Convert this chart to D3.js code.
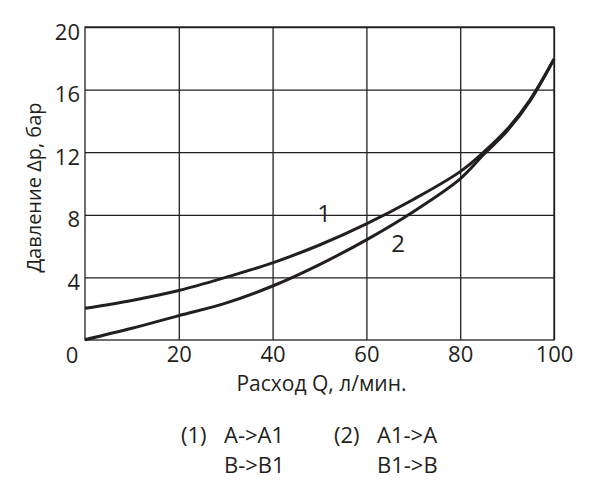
<!DOCTYPE html>
<html>
<head>
<meta charset="utf-8">
<script src="https://cdn.jsdelivr.net/npm/d3@7"></script>
<style>
  body { margin: 0; background: #fff; }
  text { font-family: "Open Sans", sans-serif; fill: #231f20; }
</style>
</head>
<body>
<div id="chart"></div>
<script>
var flow = [0, 10, 20, 30, 40, 50, 60, 70, 80, 85, 90, 95, 100];
var curve1 = [2.03, 2.53, 3.16, 4.0, 4.93, 6.07, 7.42, 8.98, 10.76, 12.0, 13.46, 15.4, 17.95];
var curve2 = [0.02, 0.75, 1.56, 2.36, 3.45, 4.82, 6.4, 8.2, 10.3, 11.85, 13.35, 15.33, 17.95];
var xTicks = [20, 40, 60, 80, 100];
var yTicks = [4, 8, 12, 16, 20];

var width = 596,
    height = 491,
    plotLeft = 85,
    plotRight = 554,
    plotTop = 27,
    plotBottom = 340,
    ink = "#231f20";

var svg = d3.select("#chart")
    .append("svg")
    .attr("width", width)
    .attr("height", height);

var x = d3.scaleLinear().domain([0, 100]).range([plotLeft, plotRight]);
var y = d3.scaleLinear().domain([0, 20]).range([plotBottom, plotTop]);

// grid
svg.append("g")
    .attr("transform", "translate(0," + plotBottom + ")")
    .call(d3.axisBottom(x).tickValues(xTicks).tickSize(-(plotBottom - plotTop)).tickFormat(""))
    .call(g => g.select(".domain").remove())
    .selectAll(".tick line")
    .style("stroke", ink)
    .style("stroke-width", "1.3px");

svg.append("g")
    .attr("transform", "translate(" + plotLeft + ",0)")
    .call(d3.axisLeft(y).tickValues(yTicks).tickSize(-(plotRight - plotLeft)).tickFormat(""))
    .call(g => g.select(".domain").remove())
    .selectAll(".tick line")
    .style("stroke", ink)
    .style("stroke-width", "1.3px");

svg.append("rect")
    .attr("x", plotLeft)
    .attr("y", plotTop)
    .attr("width", plotRight - plotLeft)
    .attr("height", plotBottom - plotTop)
    .style("fill", "none")
    .style("stroke", ink)
    .style("stroke-width", "1.3px");

// tick labels
var xAxis = svg.append("g")
    .attr("transform", "translate(0," + plotBottom + ")")
    .call(d3.axisBottom(x).tickValues(xTicks).tickSize(0).tickPadding(6));
xAxis.select(".domain").remove();
xAxis.selectAll(".tick text")
    .style("font-size", "22px")
    .style("font-family", "Open Sans")
    .style("fill", ink);

var yAxis = svg.append("g")
    .attr("transform", "translate(" + plotLeft + ",0)")
    .call(d3.axisLeft(y).tickValues(yTicks).tickSize(0).tickPadding(5));
yAxis.select(".domain").remove();
yAxis.selectAll(".tick text")
    .attr("dy", "0.55em")
    .style("font-size", "22px")
    .style("font-family", "Open Sans")
    .style("fill", ink);

svg.append("text")
    .attr("x", plotLeft - 13)
    .attr("y", 363)
    .attr("text-anchor", "middle")
    .style("font-size", "22px")
    .text("0");

// axis titles
svg.append("text")
    .attr("x", (plotLeft + plotRight) / 2 + 2)
    .attr("y", 391)
    .attr("text-anchor", "middle")
    .style("font-size", "21px")
    .text("Расход Q, л/мин.");

svg.append("text")
    .attr("transform", "translate(41," + ((plotTop + plotBottom) / 2 + 4) + ") rotate(-90)")
    .attr("text-anchor", "middle")
    .style("font-size", "20px")
    .text("Давление Δp, бар");

// curves
var line = d3.line()
    .x(d => x(d[0]))
    .y(d => y(d[1]))
    .curve(d3.curveCatmullRom.alpha(0.5));

[curve1, curve2].forEach(function (s) {
    svg.append("path")
        .datum(flow.map((q, i) => [q, s[i]]))
        .attr("d", line)
        .style("fill", "none")
        .style("stroke", ink)
        .style("stroke-width", "3px");
});

svg.append("text")
    .attr("x", 324)
    .attr("y", 222)
    .attr("text-anchor", "middle")
    .style("font-size", "24px")
    .text("1");

svg.append("text")
    .attr("x", 398)
    .attr("y", 252)
    .attr("text-anchor", "middle")
    .style("font-size", "24px")
    .text("2");

// legend
var legend = [
    { x: 181, num: "(1)", lines: ["A->A1", "B->B1"] },
    { x: 334, num: "(2)", lines: ["A1->A", "B1->B"] }
];
legend.forEach(function (d) {
    svg.append("text")
        .attr("x", d.x)
        .attr("y", 443)
        .style("font-size", "22px")
        .text(d.num);
    d.lines.forEach(function (t, i) {
        svg.append("text")
            .attr("x", d.x + 43)
            .attr("y", 443 + i * 30)
            .style("font-size", "22px")
            .text(t);
    });
});
</script>
</body>
</html>
